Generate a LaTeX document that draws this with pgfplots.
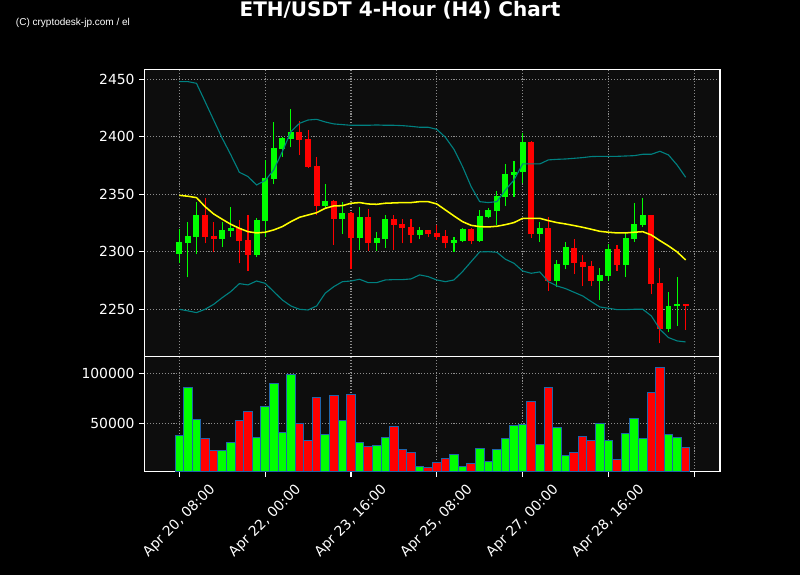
\documentclass[border=0pt]{standalone}
\usepackage{fontspec}
\setmainfont{DejaVu Sans}
\newfontfamily\cfont{Liberation Sans}
\usepackage{pgfplots}
\usepackage{pgfplotstable}
\pgfplotsset{compat=1.18}

\definecolor{face}{RGB}{13,13,13}
\definecolor{gridc}{RGB}{140,140,140}
\definecolor{cup}{RGB}{0,255,0}
\definecolor{cdown}{RGB}{255,0,0}
\definecolor{band}{RGB}{0,128,128}
\definecolor{sma}{RGB}{255,255,0}
\definecolor{edge}{RGB}{31,100,170}

% rising candles: index, open, high, low, close
\pgfplotstableread{
i o h l c
0 2298.4 2319.6 2290.0 2308.6
1 2308.0 2326.2 2277.8 2313.8
2 2313.2 2343.6 2297.8 2332.0
5 2311.4 2326.2 2304.0 2319.0
6 2318.1 2338.7 2313.2 2320.7
9 2297.2 2329.1 2295.8 2327.7
10 2326.8 2379.9 2313.2 2364.2
11 2363.6 2413.2 2358.7 2390.3
12 2389.7 2400.1 2382.8 2399.0
13 2398.4 2423.9 2390.9 2404.2
17 2339.9 2358.7 2337.8 2344.2
19 2328.6 2343.0 2315.5 2333.8
21 2312.3 2338.7 2301.6 2330.6
23 2308.0 2317.0 2300.7 2312.0
24 2311.4 2331.7 2303.6 2328.6
28 2314.6 2321.3 2310.9 2319.0
32 2308.0 2313.2 2300.1 2310.3
33 2309.4 2320.5 2308.3 2319.6
35 2309.4 2336.4 2308.8 2331.2
36 2330.3 2337.8 2329.0 2336.4
37 2335.5 2352.9 2323.3 2348.6
38 2348.0 2376.1 2340.1 2367.7
39 2367.1 2379.3 2348.0 2369.4
40 2369.1 2403.6 2359.6 2395.8
42 2315.8 2325.7 2308.8 2320.7
44 2274.9 2292.9 2269.7 2289.4
45 2288.8 2308.3 2284.8 2304.2
49 2274.9 2285.7 2258.1 2279.9
50 2279.3 2306.5 2274.9 2302.5
52 2288.8 2316.1 2278.4 2312.0
53 2311.2 2342.2 2308.8 2324.2
54 2323.6 2346.5 2321.3 2332.0
57 2232.9 2264.8 2230.0 2252.9
58 2252.6 2278.4 2235.8 2254.2
}\candleup

% falling candles
\pgfplotstableread{
i o h l c
3 2332.0 2346.5 2307.4 2313.2
4 2313.8 2326.2 2299.6 2311.2
7 2321.0 2327.7 2290.0 2309.7
8 2310.3 2331.7 2283.6 2297.2
14 2404.2 2413.8 2383.9 2397.2
15 2398.1 2405.9 2373.2 2373.8
16 2374.6 2382.2 2332.0 2340.1
18 2344.2 2345.0 2306.0 2328.8
20 2333.8 2334.9 2284.8 2312.3
22 2330.3 2337.0 2301.0 2308.0
25 2328.6 2331.7 2301.6 2323.6
26 2324.2 2328.3 2307.4 2321.0
27 2321.6 2328.3 2307.4 2315.0
29 2319.0 2319.0 2313.2 2315.8
30 2316.4 2323.3 2310.3 2313.2
31 2313.8 2319.0 2303.0 2308.0
34 2319.6 2320.5 2306.5 2309.4
41 2395.8 2396.4 2312.3 2315.8
43 2320.7 2330.0 2266.0 2274.9
46 2303.3 2310.9 2280.7 2290.6
47 2291.2 2297.2 2270.3 2287.1
48 2287.7 2292.0 2270.3 2274.9
51 2302.5 2305.9 2283.6 2288.8
55 2332.0 2332.0 2263.0 2272.0
56 2272.9 2285.7 2220.4 2232.9
59 2254.2 2254.8 2232.0 2252.6
}\candledown

% Bollinger bands and 20-period mean
\pgfplotstableread{
i up mid low
0 2448.0 2349.1 2250.0
1 2448.0 2348.3 2248.6
2 2446.5 2347.1 2247.1
3 2430.6 2339.3 2250.0
4 2414.6 2332.9 2254.3
5 2398.7 2328.3 2260.1
6 2384.3 2323.9 2265.4
7 2369.1 2320.4 2272.3
8 2365.4 2317.5 2271.2
9 2358.1 2316.4 2274.6
10 2361.9 2317.0 2272.6
11 2371.2 2319.0 2265.4
12 2387.0 2321.9 2258.1
13 2404.5 2326.2 2252.9
14 2411.7 2330.0 2250.0
15 2414.6 2332.0 2249.4
16 2415.2 2334.0 2252.9
17 2412.9 2337.8 2264.0
18 2411.2 2339.9 2269.7
19 2410.6 2340.1 2274.0
20 2410.0 2342.2 2274.6
21 2410.0 2342.8 2276.1
22 2410.0 2341.6 2273.2
23 2410.3 2341.3 2273.2
24 2410.0 2342.2 2275.5
25 2410.0 2342.5 2275.8
26 2409.7 2342.8 2275.8
27 2409.1 2342.8 2276.4
28 2408.3 2343.6 2279.9
29 2408.3 2343.6 2278.4
30 2406.5 2341.6 2275.5
31 2399.6 2336.4 2274.0
32 2389.1 2331.2 2275.5
33 2374.1 2326.2 2282.8
34 2356.7 2323.0 2291.4
35 2343.6 2321.9 2299.9
36 2342.8 2321.6 2300.1
37 2343.6 2322.2 2299.6
38 2353.8 2323.6 2293.5
39 2362.5 2325.4 2290.0
40 2376.4 2329.1 2283.3
41 2376.4 2329.1 2281.3
42 2376.4 2329.1 2282.5
43 2379.9 2327.1 2274.0
44 2380.4 2325.4 2270.3
45 2380.7 2324.2 2268.0
46 2381.3 2322.8 2264.8
47 2381.9 2321.3 2261.6
48 2382.8 2319.6 2256.7
49 2383.0 2317.8 2252.0
50 2383.0 2317.0 2250.9
51 2383.0 2316.4 2249.7
52 2383.3 2316.4 2249.7
53 2383.6 2317.0 2250.0
54 2384.8 2317.5 2250.0
55 2384.8 2314.6 2244.2
56 2387.4 2309.7 2232.6
57 2384.2 2305.1 2225.4
58 2375.5 2299.9 2222.5
59 2364.8 2292.9 2221.6
}\bands

% volume of rising and falling candles
\pgfplotstableread{
i v
0 38000
1 86000
2 54000
5 23000
6 31000
9 36000
10 67000
11 90000
12 41000
13 99000
17 39000
19 53000
21 31000
23 28000
24 36000
28 7000
32 19000
33 7000
35 25000
36 12000
37 24000
38 35000
39 48000
40 49000
42 29000
44 46000
45 18000
49 50000
50 33000
52 40000
53 55000
54 35000
57 39000
58 36000
}\volup

\pgfplotstableread{
i v
3 35000
4 23000
7 52300
8 62000
14 50000
15 33000
16 76000
18 78000
20 79000
22 27000
25 47000
26 24000
27 21000
29 6000
30 11000
31 15000
34 10000
41 72000
43 86000
46 21000
47 37000
48 33000
51 14000
55 81000
56 106000
59 26000
}\voldown

\pgfplotsset{
  chart/.style={
    scale only axis,
    anchor=south west,
    width=414.5pt,
    xmin=-4.08, xmax=63.0,
    xtick={0,10,...,60},
    axis background/.style={fill=face},
    axis line style={white, line width=0.8pt},
    every tick/.style={white, line width=0.8pt},
    major tick length=3.5pt,
    tick align=outside,
    xtick pos=left, ytick pos=left,
    grid=major,
    major grid style={gridc, line width=0.8pt, dash pattern=on 0.8pt off 1.3pt},
    tick label style={white, font=\fontsize{10}{12}\selectfont},
    label style={white, font=\fontsize{10}{12}\selectfont},
    /pgf/number format/assume math mode=true,
    /pgf/number format/1000 sep={},
    scaled y ticks=false,
    yticklabel style={/pgf/number format/fixed},
  },
  wick/.style={-, line width=0.8pt, mark=none, quiver={u=0, v=\thisrow{h}-\thisrow{l}}},
  body/.style={-, line width=4.3pt, mark=none, quiver={u=0, v=\thisrow{c}-\thisrow{o}}},
}

\begin{document}
\begin{tikzpicture}
\useasboundingbox (0,0) rectangle (576pt,414pt);
\fill[black] (0,0) rectangle (576pt,414pt);
\node[white, font=\bfseries\fontsize{14.4}{16}\selectfont, anchor=base, inner sep=0pt] at (288pt,402pt) {ETH/USDT 4-Hour (H4) Chart};
\node[white, font=\cfont\fontsize{7.2}{8}\selectfont, anchor=base west, inner sep=0pt] at (11.3pt,395.8pt) {(C) cryptodesk-jp.com / el};

\begin{axis}[chart,
  at={(103.9pt,157.2pt)},
  height=206.9pt,
  ymin=2208.8, ymax=2458.7,
  ytick={2250,2300,...,2450},
  xticklabels={},
  ylabel={Price},
  every axis y label/.style={at={(rel axis cs:0,0.5)}, xshift=-41.3pt, rotate=90, anchor=center},
]
\addplot[cup, wick] table[x=i, y=l] {\candleup};
\addplot[cup, body] table[x=i, y=o] {\candleup};
\addplot[cdown, wick] table[x=i, y=l] {\candledown};
\addplot[cdown, body] table[x=i, y=o] {\candledown};
\addplot[band, line width=0.8pt, mark=none] table[x=i, y=up] {\bands};
\addplot[band, line width=0.8pt, mark=none] table[x=i, y=low] {\bands};
\addplot[sma, line width=1.1pt, mark=none] table[x=i, y=mid] {\bands};
\end{axis}

\begin{axis}[chart,
  at={(103.9pt,74.2pt)},
  height=83.0pt,
  ymin=1300, ymax=116600,
  ytick={50000,100000},
  xticklabels={{Apr 20, 08:00},{Apr 22, 00:00},{Apr 23, 16:00},{Apr 25, 08:00},{Apr 27, 00:00},{Apr 28, 16:00},{}},
  xticklabel style={anchor=center, yshift=-32pt, rotate=45},
  ylabel={Volume},
  every axis y label/.style={at={(rel axis cs:0,0.5)}, xshift=-55.3pt, rotate=90, anchor=center},
]
\addplot[ybar, bar width=1, bar shift=0pt, fill=cup, draw=edge, line width=0.7pt] table[x=i, y=v] {\volup};
\addplot[ybar, bar width=1, bar shift=0pt, fill=cdown, draw=edge, line width=0.7pt] table[x=i, y=v] {\voldown};
\end{axis}
\end{tikzpicture}
\end{document}
